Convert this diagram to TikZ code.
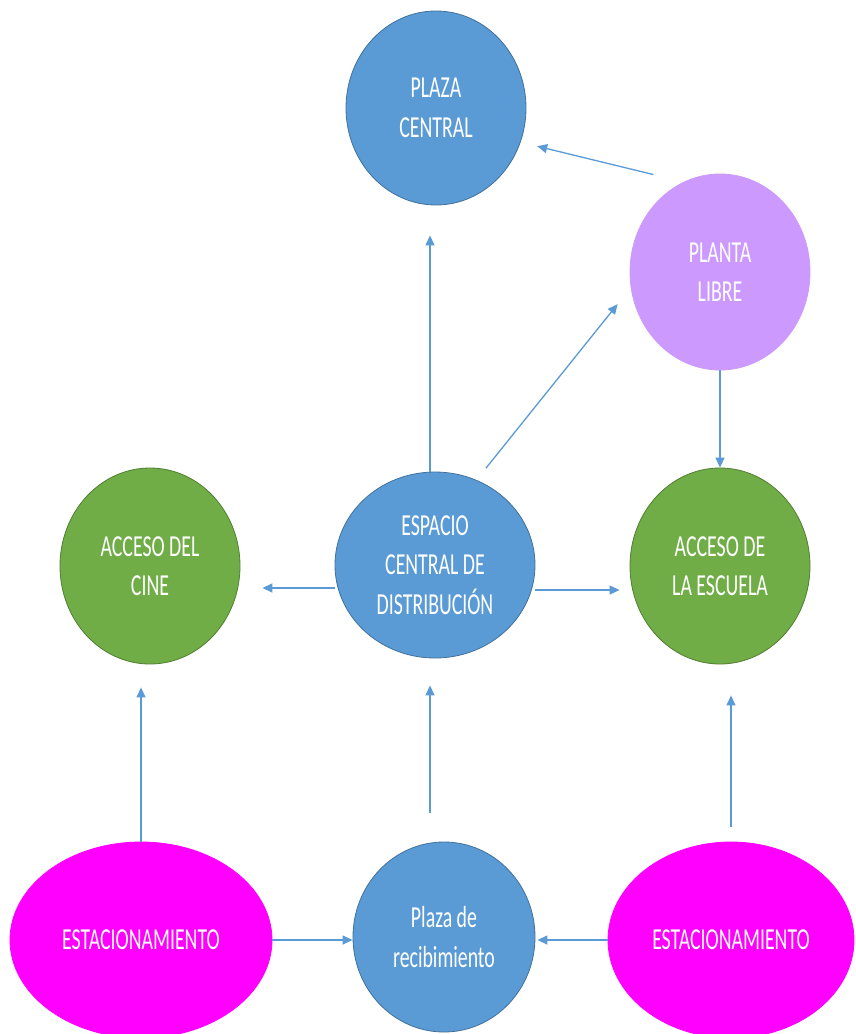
\documentclass[tikz,border=0pt]{standalone}
\usepackage{fontspec}
\usetikzlibrary{shapes.geometric,arrows.meta}
\newfontfamily\calib[FakeStretch=0.65]{Carlito}
\definecolor{oblue}{HTML}{5B9BD5}
\definecolor{obluedk}{HTML}{41719C}
\definecolor{ogreen}{HTML}{70AD47}
\definecolor{ogreendk}{HTML}{507E32}
\definecolor{olav}{HTML}{CC99FF}
\definecolor{omag}{HTML}{FF00FF}
\tikzset{
  bubble/.style={ellipse, inner sep=0pt, align=center, text=white,
    font=\calib\fontsize{30.5}{39.5}\selectfont, line width=0.8pt},
  bluebub/.style={bubble, fill=oblue, draw=obluedk},
  greenbub/.style={bubble, fill=ogreen, draw=ogreendk},
  lavbub/.style={bubble, fill=olav, draw=olav},
  magbub/.style={bubble, fill=omag, draw=omag},
  arr/.style={draw=oblue, line width=1.3pt, -{Triangle[length=10pt,width=9pt]}}
}
\begin{document}
\begin{tikzpicture}[x=1pt,y=-1pt]
\useasboundingbox[fill=white] (0,0) rectangle (856,1034);
\node[bluebub, minimum width=180pt, minimum height=194pt] (PC) at (436,108) {PLAZA\\CENTRAL};
\node[lavbub, minimum width=180pt, minimum height=196pt] (PL) at (720,272) {PLANTA\\LIBRE};
\node[bluebub, minimum width=200pt, minimum height=186pt] (ECD) at (435,565) {ESPACIO\\CENTRAL DE\\DISTRIBUCIÓN};
\node[greenbub, minimum width=180pt, minimum height=196pt] (AC) at (150,566) {ACCESO DEL\\CINE};
\node[greenbub, minimum width=180pt, minimum height=196pt] (AE) at (720,566) {ACCESO DE\\LA ESCUELA};
\node[bluebub, minimum width=182pt, minimum height=190pt] (PR) at (444,937) {Plaza de\\recibimiento};
\node[magbub, minimum width=262pt, minimum height=196pt] (EL) at (141,940) {ESTACIONAMIENTO};
\node[magbub, minimum width=246pt, minimum height=196pt] (ER) at (731,940) {ESTACIONAMIENTO};
% connectors
\draw[arr, shorten <=31pt, shorten >=17pt] (PL.112) -- (PC.-22.6);
\draw[arr, shorten >=30pt] ([xshift=-5pt]ECD.north) -- ([xshift=-6pt]PC.south);
\draw[arr, shorten <=15pt, shorten >=21pt] (ECD.64.6) -- (PL.-170.6);
\draw[arr] (PL.south) -- (AE.north);
\draw[arr, shorten >=22pt] ([yshift=-23pt]ECD.west) -- ([yshift=-22pt]AC.east);
\draw[arr, shorten >=10pt] ([yshift=-25pt]ECD.east) -- ([yshift=-24pt]AE.west);
\draw[arr, shorten >=23pt] (EL.north) -- (EL.north |- AC.south);
\draw[arr, shorten <=29pt, shorten >=27pt] ([xshift=-14pt]PR.north) -- ([xshift=-5pt]ECD.south);
\draw[arr, shorten <=15pt, shorten >=31pt] (ER.north) -- (ER.north |- AE.south);
\draw[arr] (EL.east) -- (EL.east -| PR.west);
\draw[arr, shorten >=2pt] (ER.west) -- (ER.west -| PR.east);
\end{tikzpicture}
\end{document}
